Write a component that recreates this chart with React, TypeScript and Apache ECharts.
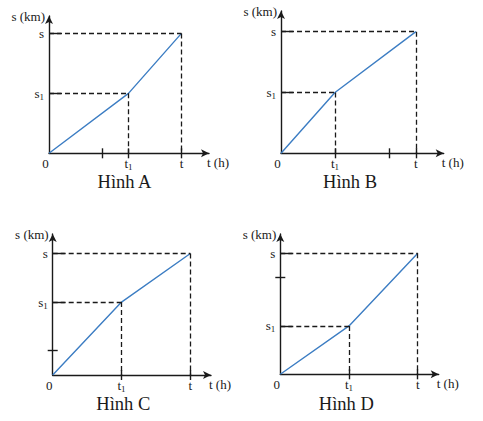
import { useEffect, useRef } from 'react';
import * as echarts from 'echarts';

const captions = ['Hình A', 'Hình B', 'Hình C', 'Hình D'];
// time values [0, t1, t] and distance values [0, s1, s] for each panel (axis units)
const timeA = [0, 3, 5];
const distA = [0, 2, 4];
const timeB = [0, 2, 5];
const distB = [0, 2, 4];
const timeC = [0, 2, 4];
const distC = [0, 3, 5];
const timeD = [0, 2, 4];
const distD = [0, 2, 5];
const extraTimeTicks = [[2], [4], [], []];
const extraDistTicks = [[], [], [1], [4]];
const timeAxisMax = [6.04, 6.03, 4.6, 4.61];
const distAxisMax = [4.58, 4.68, 5.8, 5.8];
const timeName = 't (h)';
const distName = 's (km)';

const panels = [
  { time: timeA, dist: distA },
  { time: timeB, dist: distB },
  { time: timeC, dist: distC },
  { time: timeD, dist: distD },
];

const FONT = "'Liberation Serif', 'Times New Roman', serif";
const INK = '#1a1a1a';
const BLUE = '#3c7dc3';
const gridBoxes = [
  { left: 49, top: 16, width: 160, height: 137.3 },
  { left: 281, top: 11, width: 162.7, height: 142.3 },
  { left: 52.7, top: 234, width: 158.3, height: 141 },
  { left: 280.3, top: 234, width: 158.4, height: 140.3 },
];
const captionPos = [
  [124.5, 181.5],
  [350, 181.5],
  [123.3, 404],
  [346.3, 404],
];

const rich = {
  m: { fontSize: 13, fontFamily: FONT, color: INK, lineHeight: 16 },
  sub: { fontSize: 9, fontFamily: FONT, color: INK, lineHeight: 6, verticalAlign: 'bottom' },
  z: { fontSize: 13, fontFamily: FONT, color: INK, lineHeight: 16, padding: [0, 7, 0, 0] },
};

function buildOption() {
  const xAxis: any[] = [];
  const yAxis: any[] = [];
  const series: any[] = [];
  panels.forEach((p, i) => {
    const [t0, t1, t2] = p.time;
    const [s0, s1, s2] = p.dist;
    const xTicks = [t1, t2, ...extraTimeTicks[i]];
    const xIdx = xAxis.length;
    xAxis.push({
      type: 'value', gridIndex: i, min: 0, max: timeAxisMax[i], position: 'bottom',
      axisLine: { show: true, onZero: false, lineStyle: { color: INK, width: 1.4 }, symbol: ['none', 'arrow'], symbolSize: [6, 8] },
      axisTick: { show: true, inside: false, length: 5, customValues: xTicks, lineStyle: { color: INK, width: 1.4 } },
      axisLabel: {
        show: true, customValues: [t0, t1, t2], margin: 2.5, rich,
        formatter: (v: number) => (v === t0 ? '{z|0}' : v === t1 ? '{m|t}{sub|1}' : v === t2 ? '{m|t}' : ''),
      },
      splitLine: { show: false },
      name: timeName, nameLocation: 'end', nameGap: -2,
      nameTextStyle: { fontSize: 13, fontFamily: FONT, color: INK, align: 'left', verticalAlign: 'top', padding: [3, 0, 0, 0], lineHeight: 13 },
    });
    xAxis.push({
      type: 'value', gridIndex: i, min: 0, max: timeAxisMax[i], position: 'bottom',
      axisLine: { show: false, onZero: false },
      axisTick: { show: true, inside: true, length: 5, customValues: xTicks, lineStyle: { color: INK, width: 1.4 } },
      axisLabel: { show: false },
      splitLine: { show: false },
    });
    const yIdx = yAxis.length;
    yAxis.push({
      type: 'value', gridIndex: i, min: 0, max: distAxisMax[i], position: 'left',
      axisLine: { show: true, onZero: false, lineStyle: { color: INK, width: 1.4 }, symbol: ['none', 'arrow'], symbolSize: [6, 8] },
      axisTick: { show: true, inside: true, length: 12, customValues: [s1, s2], lineStyle: { color: INK, width: 1.4 } },
      axisLabel: {
        show: true, customValues: [s1, s2], margin: 5, rich,
        formatter: (v: number) => (v === s1 ? '{m|s}{sub|1}' : v === s2 ? '{m|s}' : ''),
      },
      splitLine: { show: false },
      name: distName, nameLocation: 'end', nameGap: 0,
      nameTextStyle: { fontSize: 13, fontFamily: FONT, color: INK, align: 'right', verticalAlign: 'middle', padding: [0, 4, 0, 0] },
    });
    if (extraDistTicks[i].length) {
      [true, false].forEach((inside) => {
        yAxis.push({
          type: 'value', gridIndex: i, min: 0, max: distAxisMax[i], position: 'left',
          axisLine: { show: false, onZero: false },
          axisTick: { show: true, inside, length: 5, customValues: extraDistTicks[i], lineStyle: { color: INK, width: 1.4 } },
          axisLabel: { show: false },
          splitLine: { show: false },
        });
      });
    }
    series.push({
      type: 'line', xAxisIndex: xIdx, yAxisIndex: yIdx,
      data: p.time.map((t, k) => [t, p.dist[k]]),
      symbol: 'none', lineStyle: { color: BLUE, width: 1.4 }, z: 3,
      markLine: {
        silent: true, symbol: ['none', 'none'], label: { show: false },
        lineStyle: { type: [5, 3], color: INK, width: 1.3 },
        data: [
          [{ coord: [t0, s2] }, { coord: [t2, s2] }],
          [{ coord: [t2, s2] }, { coord: [t2, s0] }],
          [{ coord: [t0, s1] }, { coord: [t1, s1] }],
          [{ coord: [t1, s1] }, { coord: [t1, s0] }],
        ],
      },
    });
  });
  return {
    animation: false,
    backgroundColor: '#ffffff',
    grid: gridBoxes.map((b) => ({ ...b, containLabel: false })),
    xAxis,
    yAxis,
    series,
    graphic: captions.map((c, i) => ({
      type: 'text', x: captionPos[i][0], y: captionPos[i][1],
      style: { text: c, fill: INK, fontSize: 18.5, fontFamily: FONT, align: 'center', verticalAlign: 'middle', lineHeight: 15 },
    })),
  };
}

export default function App() {
  const ref = useRef<HTMLDivElement>(null);
  useEffect(() => {
    if (!ref.current) return;
    const chart = echarts.init(ref.current, null, { renderer: 'svg' });
    chart.setOption(buildOption() as any);
    return () => chart.dispose();
  }, []);
  return <div ref={ref} style={{ position: 'absolute', left: 0, top: 0, width: 483, height: 421, background: '#fff' }} />;
}
